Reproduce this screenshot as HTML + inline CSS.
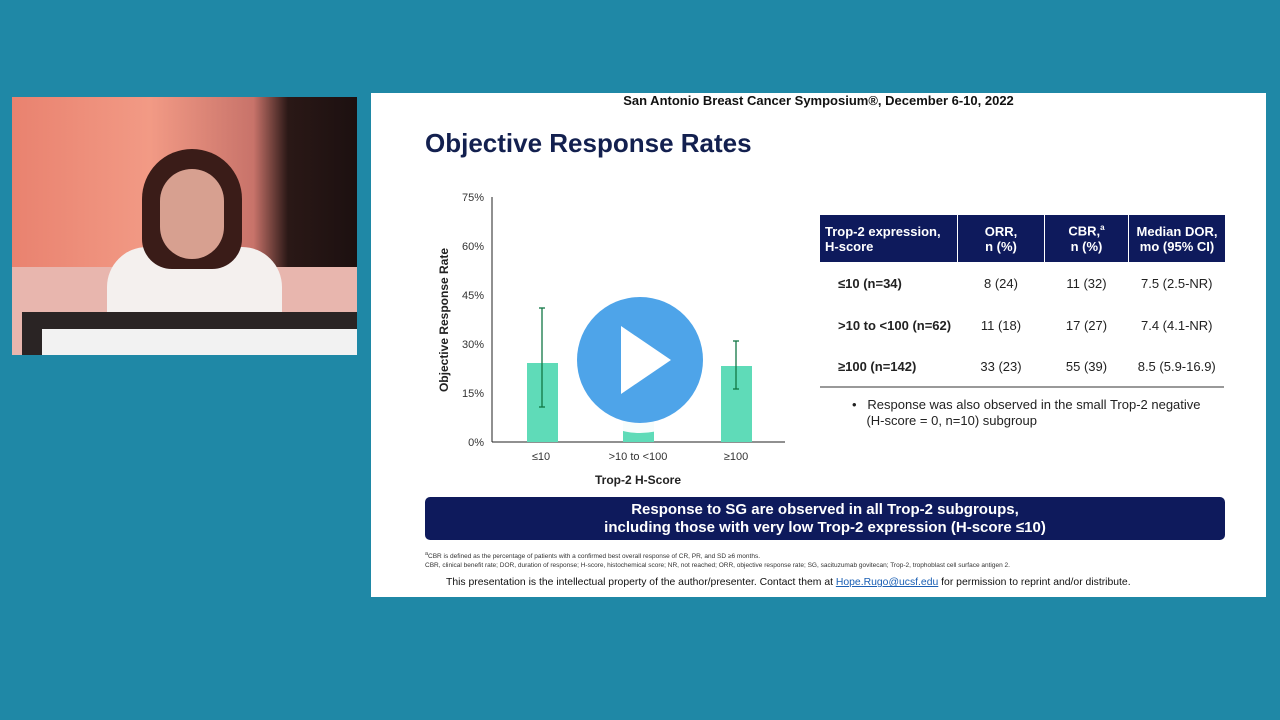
<!DOCTYPE html>
<html><head><style>
body{margin:0;width:1280px;height:720px;background:#1f88a6;position:relative;overflow:hidden;font-family:"Liberation Sans",Arial,sans-serif}
.abs{position:absolute}
.slide{left:371px;top:93px;width:895px;height:504px;background:#fff}
.video{left:12px;top:97px;width:345px;height:258px;background:linear-gradient(90deg,#e9826f 0%,#f29a85 40%,#c8736a 70%,#2a1816 80%,#1c1010 100%)}
th,td{font-size:13px;color:#222}
</style></head><body>
<div class="abs video">
 <div class="abs" style="left:0;top:170px;width:345px;height:88px;background:#e8b6ae"></div>
 <div class="abs" style="left:95px;top:150px;width:175px;height:100px;background:#f4f0ee;border-radius:40px 40px 0 0"></div>
 <div class="abs" style="left:130px;top:52px;width:100px;height:120px;background:#3a1c18;border-radius:50px 50px 30px 30px"></div>
 <div class="abs" style="left:148px;top:72px;width:64px;height:90px;background:#d7a090;border-radius:32px"></div>
 <div class="abs" style="left:10px;top:215px;width:335px;height:43px;background:#2a2424"></div>
 <div class="abs" style="left:30px;top:232px;width:315px;height:26px;background:#f2f2f2"></div>
</div>
<div class="abs slide"></div>
<div class="abs" style="left:371px;top:93px;width:895px;text-align:center;font-size:13px;font-weight:bold;color:#111">San Antonio Breast Cancer Symposium®, December 6-10, 2022</div>
<div class="abs" style="left:425px;top:128px;font-size:26px;font-weight:bold;color:#13204f">Objective Response Rates</div>

<svg class="abs" style="left:0;top:0" width="1280" height="720">
 <g font-size="11" fill="#333" text-anchor="end">
  <text x="484" y="201">75%</text><text x="484" y="250">60%</text><text x="484" y="299">45%</text>
  <text x="484" y="348">30%</text><text x="484" y="397">15%</text><text x="484" y="446">0%</text>
 </g>
 <line x1="492" y1="197" x2="492" y2="442" stroke="#222"/>
 <line x1="492" y1="442" x2="785" y2="442" stroke="#222"/>
 <rect x="527" y="363" width="31" height="79" fill="#5fdbb8"/>
 <rect x="623" y="383" width="31" height="59" fill="#5fdbb8"/>
 <rect x="721" y="366" width="31" height="76" fill="#5fdbb8"/>
 <g stroke="#174" stroke-width="1.3">
  <line x1="542" y1="308" x2="542" y2="407"/><line x1="539" y1="308" x2="545" y2="308"/><line x1="539" y1="407" x2="545" y2="407"/>
  <line x1="736" y1="341" x2="736" y2="389"/><line x1="733" y1="341" x2="739" y2="341"/><line x1="733" y1="389" x2="739" y2="389"/>
 </g>
 <g font-size="11" fill="#333" text-anchor="middle">
  <text x="541" y="460">≤10</text><text x="638" y="460">&gt;10 to &lt;100</text><text x="736" y="460">≥100</text>
 </g>
 <text x="638" y="484" font-size="12" font-weight="bold" text-anchor="middle" fill="#222">Trop-2 H-Score</text>
 <text transform="translate(448,320) rotate(-90)" font-size="12" font-weight="bold" text-anchor="middle" fill="#222">Objective Response Rate</text>
 <line x1="820" y1="387" x2="1224" y2="387" stroke="#333"/>
 <circle cx="640" cy="360" r="73" fill="#fff" opacity="0.95"/>
 <circle cx="640" cy="360" r="63" fill="#4ea4e9"/>
 <polygon points="621,326 621,394 671,360" fill="#fff"/>
</svg>

<table class="abs" style="left:820px;top:215px;width:405px;border-collapse:collapse">
 <tr style="background:#0e1a5c;height:47px">
  <th style="color:#fff;text-align:left;padding-left:5px;width:131px;font-size:13px">Trop-2 expression,<br>H-score</th>
  <th style="color:#fff;border-left:1px solid #fff;width:84px">ORR,<br>n (%)</th>
  <th style="color:#fff;border-left:1px solid #fff;width:81px">CBR,<sup style="font-size:8px">a</sup><br>n (%)</th>
  <th style="color:#fff;border-left:1px solid #fff">Median DOR,<br>mo (95% CI)</th>
 </tr>
 <tr style="height:43px"><td style="font-weight:bold;padding-left:18px">≤10 (n=34)</td><td align="center">8 (24)</td><td align="center">11 (32)</td><td align="center">7.5 (2.5-NR)</td></tr>
 <tr style="height:41px"><td style="font-weight:bold;padding-left:18px">&gt;10 to &lt;100 (n=62)</td><td align="center">11 (18)</td><td align="center">17 (27)</td><td align="center">7.4 (4.1-NR)</td></tr>
 <tr style="height:41px"><td style="font-weight:bold;padding-left:18px">≥100 (n=142)</td><td align="center">33 (23)</td><td align="center">55 (39)</td><td align="center">8.5 (5.9-16.9)</td></tr>
</table>
<div class="abs" style="left:852px;top:397px;font-size:13px;color:#222;line-height:16px">•&nbsp;&nbsp;&nbsp;Response was also observed in the small Trop-2 negative<br>&nbsp;&nbsp;&nbsp;&nbsp;(H-score = 0, n=10) subgroup</div>

<div class="abs" style="left:425px;top:497px;width:800px;height:43px;background:#0e1a5c;border-radius:5px;color:#fff;font-weight:bold;font-size:15px;text-align:center;line-height:18px;padding-top:4px;box-sizing:border-box">Response to SG are observed in all Trop-2 subgroups,<br>including those with very low Trop-2 expression (H-score ≤10)</div>
<div class="abs" style="left:425px;top:550px;font-size:6.5px;color:#333;line-height:9px"><sup>a</sup>CBR is defined as the percentage of patients with a confirmed best overall response of CR, PR, and SD ≥6 months.<br>CBR, clinical benefit rate; DOR, duration of response; H-score, histochemical score; NR, not reached; ORR, objective response rate; SG, sacituzumab govitecan; Trop-2, trophoblast cell surface antigen 2.</div>
<div class="abs" style="left:446px;top:577px;font-size:10.4px;color:#111">This presentation is the intellectual property of the author/presenter. Contact them at <span style="color:#1a5fb4;text-decoration:underline">Hope.Rugo@ucsf.edu</span> for permission to reprint and/or distribute.</div>
</body></html>
